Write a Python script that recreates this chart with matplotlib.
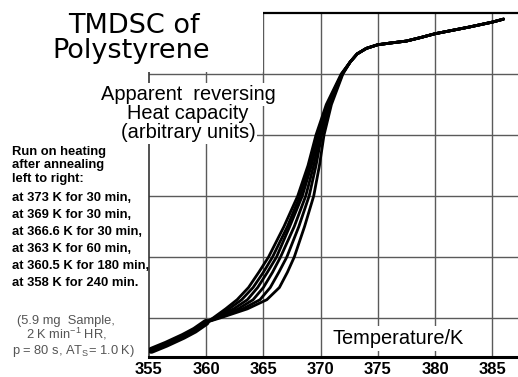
import matplotlib
matplotlib.use("Agg")
import matplotlib.pyplot as plt
from matplotlib.patches import Rectangle

W, H = 518, 377

# low-temperature side, identical for all runs
low_temp = [355.2, 356.5, 358.0, 359.0, 360.0]
low_cp = [-0.53, -0.43, -0.30, -0.20, -0.07]

# glass transition: temperature at which each run reaches these Cp levels
step_cp = [0.0, 0.15, 0.3, 0.5, 0.75, 1.0, 1.5, 2.0, 2.5, 3.0, 3.5, 4.0]
step_temp_373 = [360.6, 361.7, 362.7, 363.7, 364.6, 365.45, 366.8, 368.0, 368.9, 369.6, 370.5, 371.8]
step_temp_369 = [360.7, 362.0, 363.1, 364.1, 365.0, 365.8, 367.1, 368.2, 369.05, 369.7, 370.6, 371.85]
step_temp_3666 = [360.8, 362.4, 363.6, 364.5, 365.35, 366.15, 367.3, 368.4, 369.2, 369.8, 370.65, 371.85]
step_temp_363 = [360.9, 362.8, 364.1, 365.0, 365.8, 366.5, 367.7, 368.7, 369.4, 369.95, 370.75, 371.9]
step_temp_3605 = [361.0, 363.2, 364.7, 365.6, 366.35, 367.05, 368.1, 369.0, 369.6, 370.1, 370.85, 371.9]
step_temp_358 = [361.2, 363.6, 365.3, 366.4, 367.1, 367.7, 368.6, 369.4, 369.9, 370.3, 370.95, 371.95]

# liquid side, identical for all runs
high_temp = [372.6, 373.2, 374.0, 375.0, 376.2, 377.5, 378.8, 380.0, 383.0, 385.0, 386.0]
high_cp = [4.20, 4.33, 4.42, 4.48, 4.51, 4.54, 4.60, 4.66, 4.77, 4.85, 4.90]

x_ticks = [355, 360, 365, 370, 375, 380, 385]
y_grid = [0, 1, 2, 3, 4]

run_lines = [
    "at 373 K for 30 min,",
    "at 369 K for 30 min,",
    "at 366.6 K for 30 min,",
    "at 363 K for 60 min,",
    "at 360.5 K for 180 min,",
    "at 358 K for 240 min.",
]
intro_lines = ["Run on heating", "after annealing", "left to right:"]
ylabel_lines = ["Apparent  reversing", "Heat capacity", "(arbitrary units)"]


def fx(px):
    return px / W


def fy(py):
    return 1 - py / H


fig = plt.figure(figsize=(W / 100, H / 100), dpi=100)
ax = fig.add_axes([fx(149), fy(357), fx(518) - fx(149), fy(13) - fy(357)])
ax.set_xlim(355, 387.26)
ax.set_ylim(-0.639, 5.0)

for xt in x_ticks[1:]:
    ax.axvline(xt, color="#5a5a5a", lw=1.0, zorder=1)
for yg in y_grid:
    ax.axhline(yg, color="#5a5a5a", lw=1.0, zorder=1)

# the runs overlap below 360 K, giving one broad trace
ax.plot(low_temp, low_cp, color="black", lw=5.0, solid_capstyle="round", zorder=4)
for step_temp in [step_temp_373, step_temp_369, step_temp_3666,
                  step_temp_363, step_temp_3605, step_temp_358]:
    ax.plot(low_temp + step_temp + high_temp, low_cp + step_cp + high_cp,
            color="black", lw=2.0, solid_capstyle="round",
            solid_joinstyle="round", zorder=4)

ax.spines["right"].set_visible(False)
ax.spines["top"].set_linewidth(1.6)
ax.spines["left"].set_color("#333333")
ax.spines["left"].set_linewidth(1.2)
ax.spines["bottom"].set_linewidth(2.2)
ax.set_xticks(x_ticks)
ax.set_xticklabels([str(t) for t in x_ticks], fontfamily="Liberation Sans",
                   fontweight="bold", fontsize=12)
ax.set_yticks([])
ax.tick_params(axis="x", length=0, pad=3.5)

# blank the upper-left corner of the grid behind the title
ax.add_patch(Rectangle((fx(0), fy(72)), fx(263), fy(0) - fy(72),
                       transform=fig.transFigure, facecolor="white",
                       edgecolor="none", zorder=3, clip_on=False))

fig.text(fx(134), fy(33), "TMDSC of", fontfamily="DejaVu Sans", fontsize=19.5,
         ha="center", va="baseline", zorder=5)
fig.text(fx(131), fy(58), "Polystyrene", fontfamily="DejaVu Sans", fontsize=19.5,
         ha="center", va="baseline", zorder=5)

# white backing boxes first, then the label text on top of all of them
for txt, base in zip(ylabel_lines, [100, 119, 138]):
    fig.text(fx(188), fy(base), txt, fontfamily="Liberation Sans", fontsize=14.4,
             ha="center", va="baseline", color="none", zorder=4,
             bbox=dict(facecolor="white", edgecolor="none", pad=1.5))
for txt, base in zip(ylabel_lines, [100, 119, 138]):
    fig.text(fx(188), fy(base), txt, fontfamily="Liberation Sans", fontsize=14.4,
             ha="center", va="baseline", zorder=5)

fig.text(fx(398), fy(344), "Temperature/K", fontfamily="Liberation Sans",
         fontsize=14.4, ha="center", va="baseline", zorder=5,
         bbox=dict(facecolor="white", edgecolor="none", pad=2.5))

for txt, base in zip(intro_lines, [155, 168.5, 182]):
    fig.text(fx(12), fy(base), txt, fontfamily="Liberation Sans", fontweight="bold",
             fontsize=9.4, ha="left", va="baseline")
for i, txt in enumerate(run_lines):
    fig.text(fx(12), fy(201 + 17 * i), txt, fontfamily="Liberation Sans",
             fontweight="bold", fontsize=9.4, ha="left", va="baseline")

note_color = "#555555"
fig.text(fx(17), fy(324), "(5.9 mg  Sample,", fontfamily="Liberation Sans",
         fontsize=9.3, color=note_color, va="baseline")
fig.text(fx(26), fy(339), r"2 K min$^{\mathregular{-1}}$ HR,", fontfamily="Liberation Sans",
         fontsize=9.3, color=note_color, va="baseline")
fig.text(fx(12), fy(354), r"p = 80 s, AT$_{\mathregular{S}}$= 1.0 K)",
         fontfamily="Liberation Sans", fontsize=9.3, color=note_color, va="baseline")

fig.savefig("out.png", dpi=100)
